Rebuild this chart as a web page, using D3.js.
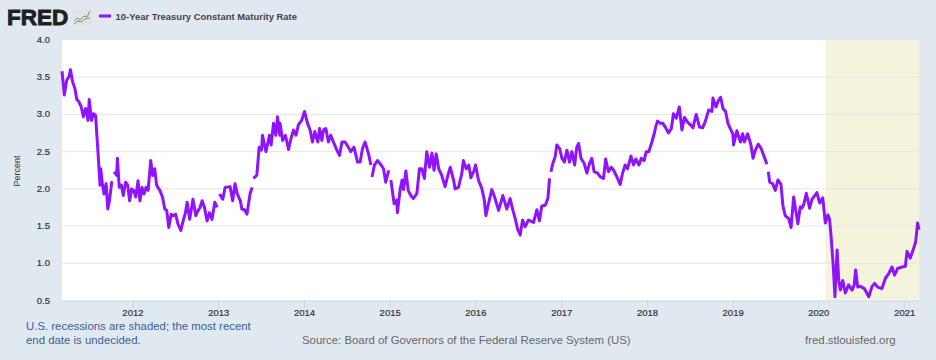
<!DOCTYPE html>
<html>
<head>
<meta charset="utf-8">
<script src="https://cdn.jsdelivr.net/npm/d3@7"></script>
<style>
  html, body { margin: 0; padding: 0; background: #e1e9f0; }
  text { font-family: "Liberation Sans", Arial, sans-serif; }
</style>
</head>
<body>
<div id="chart"></div>
<script>
// values, in four stretches. session = count of trading days from the first date
var sessionsA = [0, 7, 14, 21, 25, 32, 39, 44, 51, 58, 64, 71, 78, 82, 89, 94, 101, 107, 112, 114, 116, 121, 126, 132, 137, 142, 149, 152, 154,
    156, 164, 166, 172, 178, 184, 191, 197, 203, 209, 215, 221, 228, 234, 240, 246, 252, 258, 266, 272, 278, 284, 294, 301, 308, 314, 320, 327, 334, 341, 348, 356, 363, 370, 375, 383, 393, 401, 408, 414, 420, 427, 435, 442, 450, 458, 465, 468,
    472, 482, 489, 504, 512, 519, 526, 535, 539, 547, 555, 564, 570, 572,
    574, 584, 591, 598, 601, 612, 622, 627, 634, 641, 646, 653];
var ratesA = [3.58, 3.26, 3.46, 3.51, 3.60, 3.44, 3.35, 3.20, 3.17, 3.10, 2.97, 3.08, 2.92, 3.20, 2.92, 3.01, 2.99, 2.56, 2.20, 2.05, 2.27, 2.07, 1.93, 2.07, 1.73, 1.84, 2.09, 2.09, null,
    2.23, 2.18, 2.41, 2.02, 2.05, 1.91, 2.09, 2.05, 1.84, 2.00, 1.98, 1.89, 2.11, 1.84, 2.02, 1.93, 2.02, 1.98, 2.38, 2.18, 2.27, 2.05, 1.97, 1.89, 1.73, 1.71, 1.48, 1.66, 1.64, 1.66, 1.53, 1.44, 1.57, 1.68, 1.82, 1.59, 1.86, 1.64, 1.71, 1.75, 1.84, 1.75, 1.57, 1.68, 1.59, 1.82, 1.75, null,
    1.93, 1.86, 2.02, 2.03, 1.84, 2.07, 1.93, 1.84, 1.73, 1.72, 1.66, 1.93, 2.02, null,
    2.14, 2.18, 2.56, 2.52, 2.72, 2.50, 2.72, 2.59, 2.88, 2.72, 2.97, 2.72];

var sessionsB = [0, 8, 16, 25, 33, 40, 48, 55, 65, 73, 82, 90, 97, 104, 113, 118, 125, 130, 137, 145, 152, 160, 170, 178, 186, 195, 205, 212, 222, 232, 240, 247, 255, 265, 272, 274,
    276, 283, 292, 300, 310, 317, 326, 329,
    332, 342, 350, 352, 360, 366, 370, 377, 384, 392, 400, 410, 418, 425, 433, 440, 448, 455, 462, 468, 476, 485, 495, 503, 510, 520, 525, 535, 545, 550, 558, 566, 572, 582, 586, 595, 605, 612, 617, 625, 635, 642, 655, 668, 680, 690, 698, 705, 712, 720, 727, 735, 745, 760, 770, 778, 785, 795, 803, 808, 810,
    812, 818, 825, 830, 838];
var ratesB = [2.88, 2.65, 2.72, 2.53, 2.68, 2.79, 2.72, 2.86, 2.92, 3.04, 2.88, 2.79, 2.63, 2.77, 2.63, 2.81, 2.65, 2.79, 2.81, 2.63, 2.72, 2.63, 2.52, 2.45, 2.63, 2.63, 2.56, 2.50, 2.56, 2.36, 2.36, 2.54, 2.63, 2.47, 2.32, null,
    2.16, 2.32, 2.38, 2.34, 2.27, 2.09, 2.25, null,
    2.12, 1.80, 1.85, 1.68, 2.00, 2.12, 1.99, 2.24, 1.98, 1.91, 1.87, 1.94, 2.27, 2.27, 2.14, 2.50, 2.29, 2.48, 2.25, 2.47, 2.27, 2.18, 2.03, 2.18, 2.29, 2.12, 2.00, 2.02, 2.20, 2.38, 2.27, 2.32, 2.15, 2.25, 2.32, 2.12, 2.00, 1.85, 1.64, 1.80, 1.99, 1.91, 1.71, 1.91, 1.73, 1.87, 1.71, 1.60, 1.46, 1.38, 1.58, 1.49, 1.58, 1.55, 1.72, 1.57, 1.77, 1.78, 1.87, 2.14, null,
    2.23, 2.34, 2.43, 2.59, 2.54];

var sessionsC = [65, 72, 80, 88, 95, 103, 110, 115, 122, 132, 140, 148, 155, 162, 172, 180, 190, 196, 205, 213, 220, 228, 240, 247, 255, 262, 272, 280, 287, 296, 303, 312, 318, 326, 335, 342, 346, 352, 360, 368, 375, 385, 393, 400, 408, 417, 425, 433, 441, 450, 458, 468, 478, 487, 495, 505, 515, 518, 527, 535, 541, 548, 556, 563, 570, 578, 580, 590, 600, 607, 612, 622, 632, 638, 645, 654, 663, 670, 680, 682,
    684, 688, 697, 705, 713, 722, 728, 735, 745, 752, 760, 768, 773, 780];
var ratesC = [2.41, 2.36, 2.52, 2.36, 2.50, 2.32, 2.56, 2.61, 2.41, 2.34, 2.21, 2.34, 2.41, 2.23, 2.21, 2.16, 2.14, 2.40, 2.23, 2.29, 2.25, 2.18, 2.06, 2.21, 2.32, 2.27, 2.44, 2.32, 2.40, 2.32, 2.41, 2.38, 2.50, 2.50, 2.63, 2.74, 2.83, 2.91, 2.88, 2.88, 2.83, 2.75, 2.81, 3.01, 2.95, 3.10, 2.79, 2.96, 2.90, 2.86, 2.82, 3.00, 2.83, 2.82, 2.90, 3.06, 3.04, 3.22, 3.10, 3.19, 3.23, 3.08, 3.04, 2.88, 2.81, 2.74, 2.59, 2.78, 2.63, 2.74, 2.63, 2.74, 2.59, 2.41, 2.52, 2.60, 2.54, 2.45, 2.33, null,
    2.23, 2.09, 2.07, 1.98, 2.12, 2.06, 1.78, 1.64, 1.60, 1.48, 1.89, 1.67, 1.53, 1.76];

var sessionsD = [125, 130, 138, 148, 155, 170, 178, 187, 195, 203, 208, 212, 218, 224, 230, 235, 240, 247, 255, 265, 275, 282, 286, 292, 300, 312, 325, 335, 343, 352, 365, 375, 385, 395, 403, 412, 425, 435, 440, 450, 460, 466, 472, 476];
var ratesD = [1.74, 1.79, 1.94, 1.74, 1.86, 1.95, 1.81, 1.88, 1.54, 1.65, 1.59, 1.38, 1.00, 0.55, 1.18, 0.77, 0.64, 0.77, 0.60, 0.71, 0.64, 0.71, 0.91, 0.68, 0.69, 0.66, 0.55, 0.69, 0.73, 0.68, 0.66, 0.80, 0.86, 0.95, 0.84, 0.93, 0.95, 0.96, 1.16, 1.07, 1.20, 1.29, 1.54, 1.45];

var stretchStarts = [0, 654, 1434, 2094];
var yTicks = [0.5, 1.0, 1.5, 2.0, 2.5, 3.0, 3.5, 4.0];
var recessionStart = new Date(2020, 1, 1);
var firstDay = new Date(2011, 2, 7);
var lastDay = new Date(2021, 2, 5);
var seriesName = '10-Year Treasury Constant Maturity Rate';

var width = 936, height = 360;
var plotLeft = 62, plotRight = 919, plotTop = 40, plotBottom = 300.5;
var purple = '#9013fe';

var points = [];
[[sessionsA, ratesA], [sessionsB, ratesB], [sessionsC, ratesC], [sessionsD, ratesD]].forEach(function (s, k) {
    s[0].forEach(function (n, i) {
        points.push({ session: n + stretchStarts[k], rate: s[1][i] });
    });
});

// about 257 sessions fit in a year on this axis
var dayOf = function (n) { return d3.timeDay.offset(firstDay, Math.round(n * 365.25 / 257.1)); };

var x = d3.scaleTime().domain([firstDay, lastDay]).range([plotLeft, plotRight]);
var y = d3.scaleLinear().domain([0.5, 4]).range([plotBottom, plotTop]);

var svg = d3.select('#chart').append('svg')
    .attr('width', width)
    .attr('height', height)
    .style('display', 'block');

svg.append('rect').attr('width', width).attr('height', height).attr('fill', '#e1e9f0');
svg.append('rect')
    .attr('x', plotLeft).attr('y', plotTop)
    .attr('width', plotRight - plotLeft).attr('height', plotBottom - plotTop)
    .attr('fill', '#ffffff');

// recession band
svg.append('rect')
    .attr('x', x(recessionStart)).attr('y', plotTop)
    .attr('width', plotRight - x(recessionStart)).attr('height', plotBottom - plotTop)
    .attr('fill', '#f4f3db');

// gridlines
svg.append('g').selectAll('line')
    .data(yTicks.filter(function (d) { return d > 0.5 && d < 4; }))
    .enter().append('line')
    .attr('x1', plotLeft).attr('x2', plotRight)
    .attr('y1', function (d) { return y(d); })
    .attr('y2', function (d) { return y(d); })
    .attr('stroke', '#e6e6e6');

// y labels
svg.append('g').selectAll('text')
    .data(yTicks)
    .enter().append('text')
    .attr('x', 50)
    .attr('y', function (d) { return y(d) + 3; })
    .attr('text-anchor', 'end')
    .attr('font-size', 9.5)
    .attr('fill', '#333')
    .attr('stroke', '#333')
    .attr('stroke-width', 0.2)
    .text(function (d) { return d.toFixed(1); });

svg.append('text')
    .attr('transform', 'translate(20,171) rotate(-90)')
    .attr('text-anchor', 'middle')
    .attr('font-size', 9)
    .attr('fill', '#333')
    .text('Percent');

// x axis
var xAxis = d3.axisBottom(x)
    .ticks(d3.timeYear.every(1))
    .tickFormat(d3.timeFormat('%Y'))
    .tickSizeInner(8)
    .tickSizeOuter(0)
    .tickPadding(1);
var axisG = svg.append('g').attr('transform', 'translate(0,' + plotBottom + ')').call(xAxis);
axisG.select('.domain').attr('stroke', '#ccd6eb');
axisG.selectAll('.tick line').attr('stroke', '#ccd6eb');
axisG.selectAll('.tick text')
    .attr('font-family', '"Liberation Sans", Arial, sans-serif')
    .attr('font-size', 9.5)
    .attr('fill', '#333')
    .attr('stroke', '#333')
    .attr('stroke-width', 0.2);

// the series, gaps are missing days
var line = d3.line()
    .defined(function (d) { return d.rate !== null; })
    .x(function (d) { return x(dayOf(d.session)); })
    .y(function (d) { return y(d.rate); });

svg.append('path')
    .datum(points)
    .attr('d', line)
    .attr('fill', 'none')
    .attr('stroke', purple)
    .attr('stroke-width', 3)
    .attr('stroke-linejoin', 'round');

// header
svg.append('text')
    .attr('x', 7).attr('y', 25)
    .attr('font-size', 22.5)
    .attr('font-weight', 'bold')
    .attr('fill', '#231f20')
    .attr('stroke', '#231f20')
    .attr('stroke-width', 0.9)
    .text('FRED');

var icon = svg.append('g').attr('transform', 'translate(73,9)');
icon.append('rect').attr('width', 18).attr('height', 16).attr('rx', 1.5).attr('fill', '#e4e2dc');
icon.append('path')
    .attr('d', d3.line()([[1, 12], [4, 9], [7, 11], [11, 7], [14, 8], [17, 2]]))
    .attr('fill', 'none').attr('stroke', '#5b9bb5');
icon.append('path')
    .attr('d', d3.line()([[1, 15], [5, 12], [8, 13], [12, 10], [17, 9]]))
    .attr('fill', 'none').attr('stroke', '#6ba55b');

svg.append('line')
    .attr('x1', 99).attr('x2', 111)
    .attr('y1', 16).attr('y2', 16)
    .attr('stroke', purple)
    .attr('stroke-width', 3);
svg.append('text')
    .attr('x', 115.5).attr('y', 19.5)
    .attr('font-size', 9.45)
    .attr('font-weight', 'bold')
    .attr('fill', '#444')
    .text(seriesName);

// footer
svg.append('text').attr('x', 26).attr('y', 330).attr('font-size', 11.4).attr('fill', '#36609b')
    .text('U.S. recessions are shaded; the most recent');
svg.append('text').attr('x', 26).attr('y', 344).attr('font-size', 11.4).attr('fill', '#36609b')
    .text('end date is undecided.');
svg.append('text').attr('x', 302).attr('y', 344).attr('font-size', 11.4).attr('fill', '#666')
    .text('Source: Board of Governors of the Federal Reserve System (US)');
svg.append('text').attr('x', 805).attr('y', 344).attr('font-size', 11.4).attr('fill', '#666')
    .text('fred.stlouisfed.org');
</script>
</body>
</html>
